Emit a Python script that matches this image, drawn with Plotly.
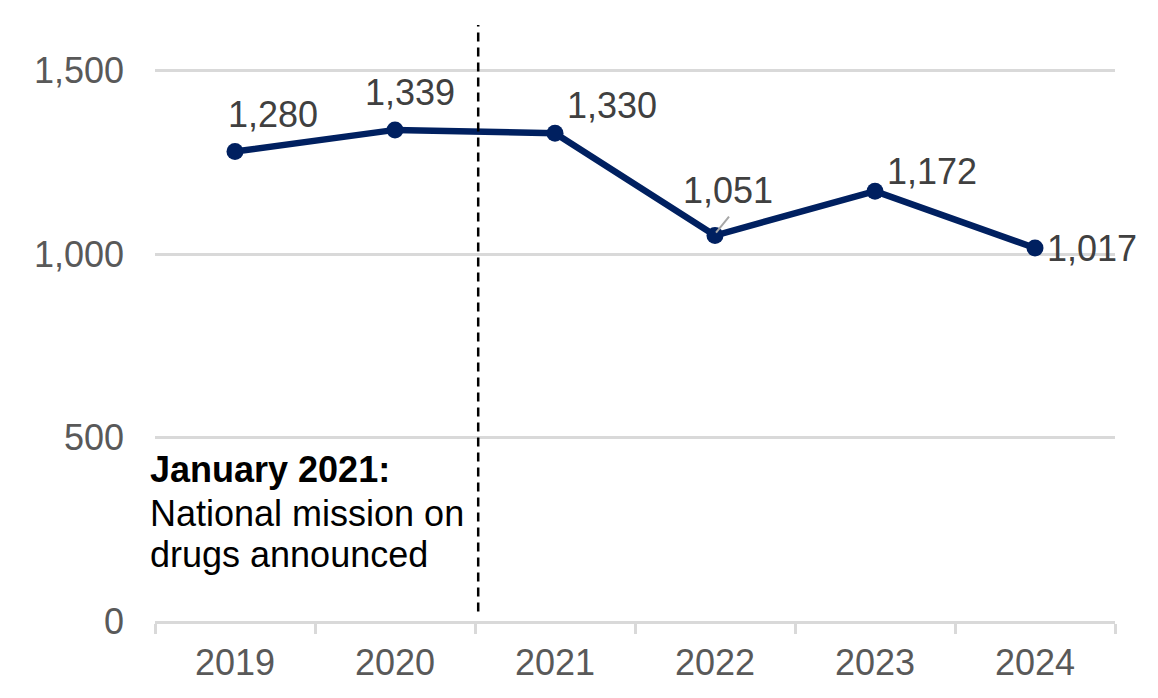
import plotly.graph_objects as go

years = ["2019", "2020", "2021", "2022", "2023", "2024"]
values = [1280, 1339, 1330, 1051, 1172, 1017]
value_labels = ["1,280", "1,339", "1,330", "1,051", "1,172", "1,017"]
y_ticks = [0, 500, 1000, 1500]
y_tick_labels = ["0", "500", "1,000", "1,500"]

# label offsets in pixels (dx, dy up)
label_offsets = [(38, 37), (15, 37), (57, 28), (13, 45), (57, 20), (57, 0)]

NAVY = "#002060"
GRID = "#d9d9d9"
FONT = "Liberation Sans, Arial, sans-serif"

fig = go.Figure()
fig.add_trace(go.Scatter(
    x=years, y=values, mode="lines+markers",
    line=dict(color=NAVY, width=6.5),
    marker=dict(color=NAVY, size=17),
    hoverinfo="skip", showlegend=False,
))

annotations = []
for i, (lab, v, (dx, dy)) in enumerate(zip(value_labels, values, label_offsets)):
    annotations.append(dict(
        x=i, y=v, xref="x", yref="y", text=lab, showarrow=False,
        xshift=dx, yshift=dy, font=dict(family=FONT, size=36, color="#404040"),
        xanchor="center", yanchor="middle",
    ))

note_lines = ["<b>January 2021:</b>", "National mission on", "drugs announced"]
note_y = [413, 293, 182]
for t, yv in zip(note_lines, note_y):
    annotations.append(dict(
        x=-0.0075, y=yv, xref="paper", yref="y", text=t, showarrow=False,
        xanchor="left", yanchor="middle",
        font=dict(family=FONT, size=36, color="#000000"),
    ))

shapes = [
    dict(type="line", xref="x", yref="paper", x0=1.52, x1=1.52, y0=0.016, y1=1.0,
         line=dict(color="#000000", width=2.5, dash="9px,6px")),
    dict(type="line", xref="x", yref="y", xsizemode="pixel", ysizemode="pixel",
         xanchor=3, yanchor=values[3], x0=1, y0=3, x1=14, y1=19,
         line=dict(color="#a6a6a6", width=2)),
]

fig.update_layout(
    width=1158, height=698,
    margin=dict(l=155, r=43, t=25, b=77),
    paper_bgcolor="white", plot_bgcolor="white",
    annotations=annotations, shapes=shapes,
    font=dict(family=FONT),
    xaxis=dict(
        type="category", categoryorder="array", categoryarray=years,
        range=[-0.5, len(years) - 0.5],
        showgrid=False, zeroline=False,
        showline=True, linecolor=GRID, linewidth=3,
        ticks="outside", ticklen=10, tickwidth=3, tickcolor=GRID,
        tickson="boundaries", ticklabelstandoff=8,
        tickfont=dict(family=FONT, size=36, color="#595959"),
    ),
    yaxis=dict(
        range=[0, 1625], tickvals=y_ticks, ticktext=y_tick_labels,
        showgrid=True, gridcolor=GRID, gridwidth=3, zeroline=False,
        showline=False, ticks="", ticklabelstandoff=30,
        tickfont=dict(family=FONT, size=36, color="#595959"),
    ),
)

fig.write_html("out.html")
